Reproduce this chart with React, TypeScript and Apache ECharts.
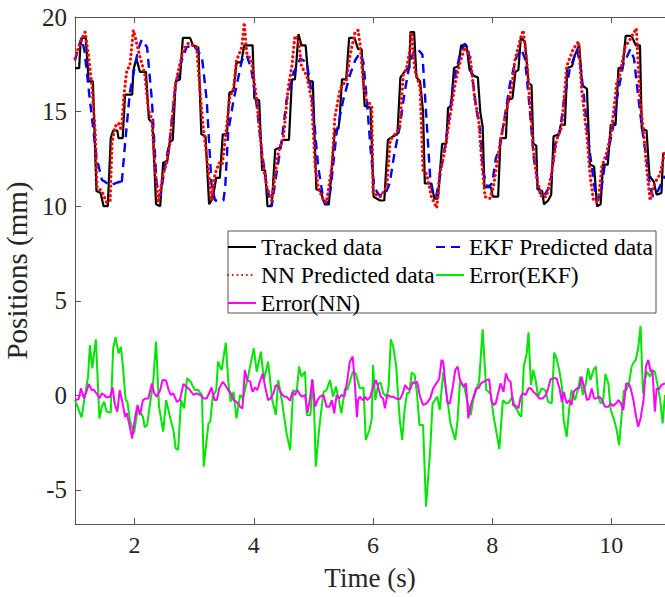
import React, { useEffect, useRef } from "react";
import * as echarts from "echarts";

const xTicks = [2, 4, 6, 8, 10];
const yTicks = [-5, 0, 5, 10, 15, 20];

const tracked: number[][] = [
  [1.00,17.3],[1.07,17.3],[1.09,18.5],[1.12,18.9],[1.18,18.9],[1.23,16.6],[1.30,16.6],[1.36,10.8],[1.43,10.7],[1.48,10.0],[1.55,10.0],[1.60,13.6],[1.64,14.0],[1.71,14.0],[1.73,13.6],[1.80,13.6],[1.84,15.9],[1.96,15.9],[1.98,17.2],[2.03,17.8],[2.09,17.1],[2.19,17.1],[2.24,14.6],[2.30,14.4],[2.36,10.1],[2.43,10.0],[2.48,12.3],[2.55,12.4],[2.59,13.4],[2.64,13.5],[2.69,16.6],[2.76,16.7],[2.81,18.9],[2.93,18.9],[2.98,18.5],[3.07,18.4],[3.12,13.8],[3.19,13.7],[3.25,10.1],[3.31,10.4],[3.37,11.5],[3.43,11.5],[3.48,13.8],[3.55,13.8],[3.59,16.0],[3.66,16.1],[3.71,17.6],[3.79,17.6],[3.84,18.5],[3.98,18.5],[4.01,15.7],[4.09,15.6],[4.14,11.9],[4.19,11.9],[4.23,10.0],[4.30,10.0],[4.36,13.0],[4.44,13.1],[4.48,13.5],[4.59,13.5],[4.64,16.7],[4.69,16.7],[4.71,17.4],[4.75,19.1],[4.80,18.5],[4.87,18.5],[4.92,16.6],[4.99,16.6],[5.05,10.9],[5.12,10.8],[5.19,10.1],[5.26,10.1],[5.36,14.0],[5.42,14.1],[5.44,14.6],[5.48,16.7],[5.55,16.7],[5.60,18.9],[5.69,18.9],[5.75,18.3],[5.81,18.3],[5.86,15.3],[5.96,15.2],[6.01,10.5],[6.12,10.3],[6.19,10.3],[6.25,13.5],[6.34,13.7],[6.41,13.8],[6.46,16.8],[6.55,17.2],[6.61,17.3],[6.63,19.2],[6.69,19.2],[6.73,16.8],[6.79,16.6],[6.84,15.0],[6.87,11.2],[6.98,11.2],[7.03,10.4],[7.09,10.4],[7.16,13.3],[7.23,13.3],[7.26,15.2],[7.31,15.3],[7.36,17.3],[7.43,17.4],[7.48,18.5],[7.57,18.5],[7.62,17.2],[7.69,16.9],[7.76,16.8],[7.80,15.0],[7.84,14.2],[7.87,11.0],[7.98,11.0],[8.01,10.5],[8.10,10.5],[8.14,13.6],[8.23,13.6],[8.26,15.6],[8.34,15.7],[8.39,17.1],[8.44,17.2],[8.48,18.9],[8.55,18.7],[8.61,16.5],[8.66,16.4],[8.69,13.3],[8.74,13.2],[8.76,10.9],[8.84,10.8],[8.87,10.1],[8.94,10.3],[8.99,10.6],[9.03,13.7],[9.12,13.8],[9.15,14.3],[9.22,14.3],[9.26,17.3],[9.34,17.4],[9.39,18.0],[9.46,18.5],[9.51,16.4],[9.59,16.2],[9.64,12.2],[9.71,12.1],[9.76,10.0],[9.82,10.1],[9.86,12.2],[9.94,12.2],[9.99,14.3],[10.07,14.3],[10.12,17.3],[10.19,17.3],[10.24,19.0],[10.34,19.0],[10.41,18.5],[10.48,18.5],[10.51,14.1],[10.59,14.0],[10.64,11.6],[10.71,11.3],[10.76,10.6],[10.84,10.7],[10.87,12.8],[10.93,12.8]
];

const ekfPredicted: number[][] = [
  [1.00,17.7],[1.05,18.3],[1.11,18.9],[1.16,18.2],[1.25,15.6],[1.36,12.6],[1.45,11.4],[1.59,11.1],[1.75,11.3],[1.78,11.1],[1.84,13.3],[1.92,16.0],[2.06,18.3],[2.12,18.8],[2.21,18.4],[2.29,15.6],[2.37,11.2],[2.43,10.5],[2.51,12.1],[2.59,13.5],[2.68,16.2],[2.76,17.4],[2.87,18.4],[2.99,18.5],[3.13,17.9],[3.21,15.6],[3.29,11.2],[3.35,10.3],[3.49,10.3],[3.52,11.0],[3.57,13.9],[3.66,15.6],[3.80,17.7],[3.88,18.0],[3.96,17.2],[4.05,15.3],[4.13,13.0],[4.22,11.0],[4.30,10.0],[4.38,11.7],[4.47,13.5],[4.55,15.6],[4.66,17.0],[4.78,17.8],[4.89,17.6],[4.97,16.0],[5.03,13.9],[5.08,12.1],[5.17,10.3],[5.22,10.1],[5.28,10.7],[5.33,12.1],[5.39,13.9],[5.50,15.6],[5.61,16.9],[5.70,17.7],[5.78,18.1],[5.84,17.6],[5.90,15.5],[5.96,13.0],[6.02,11.0],[6.10,10.6],[6.20,10.6],[6.28,11.2],[6.36,12.8],[6.45,14.2],[6.53,16.0],[6.62,17.6],[6.70,18.3],[6.78,18.2],[6.83,18.0],[6.90,14.5],[6.96,11.5],[7.00,10.6],[7.06,10.5],[7.12,11.5],[7.20,13.0],[7.27,14.5],[7.35,16.5],[7.45,17.9],[7.54,18.6],[7.60,18.2],[7.68,16.5],[7.74,15.0],[7.79,14.2],[7.85,11.8],[7.92,11.0],[8.00,11.2],[8.06,12.5],[8.13,13.2],[8.20,14.5],[8.30,16.5],[8.41,17.9],[8.49,18.3],[8.55,17.8],[8.62,15.5],[8.70,12.5],[8.80,10.7],[8.86,10.5],[8.94,10.9],[8.99,11.5],[9.06,13.3],[9.14,14.0],[9.20,15.5],[9.30,17.2],[9.42,18.3],[9.48,17.5],[9.55,15.5],[9.62,13.3],[9.70,11.4],[9.75,10.3],[9.82,10.6],[9.88,12.0],[9.94,12.8],[10.03,14.2],[10.10,15.8],[10.20,17.5],[10.32,18.3],[10.38,17.8],[10.45,15.8],[10.52,14.0],[10.59,12.5],[10.65,11.0],[10.70,10.5],[10.78,10.8],[10.85,11.3],[10.90,11.6]
];

const nnPredicted: number[][] = [
  [1.00,17.8],[1.08,18.6],[1.17,19.2],[1.22,18.1],[1.28,16.5],[1.34,13.9],[1.37,11.0],[1.45,10.8],[1.53,10.2],[1.59,10.3],[1.62,13.3],[1.67,14.2],[1.73,14.4],[1.78,14.0],[1.82,15.8],[1.87,17.2],[1.92,17.4],[1.98,19.3],[2.02,18.8],[2.09,17.9],[2.17,17.0],[2.23,15.1],[2.29,14.6],[2.34,12.1],[2.40,10.2],[2.48,11.7],[2.54,12.3],[2.59,13.3],[2.68,16.3],[2.73,17.1],[2.82,18.3],[2.90,18.6],[3.04,18.4],[3.10,16.0],[3.15,14.2],[3.23,12.1],[3.29,10.3],[3.35,11.7],[3.42,12.3],[3.47,12.2],[3.52,13.5],[3.60,15.8],[3.66,16.2],[3.71,17.7],[3.80,18.4],[3.84,19.7],[3.88,18.1],[3.96,17.7],[4.05,15.6],[4.10,13.9],[4.16,12.1],[4.22,11.0],[4.30,10.3],[4.36,11.7],[4.41,12.8],[4.50,13.7],[4.58,16.3],[4.64,17.4],[4.69,19.0],[4.75,18.8],[4.80,17.4],[4.89,16.9],[4.97,15.6],[5.03,12.1],[5.08,11.0],[5.17,10.3],[5.22,10.2],[5.31,12.1],[5.36,14.7],[5.45,16.2],[5.56,16.7],[5.61,17.9],[5.70,19.2],[5.75,19.3],[5.78,18.6],[5.84,16.5],[5.89,15.6],[5.98,15.3],[6.00,10.7],[6.12,10.5],[6.23,11.0],[6.29,13.5],[6.40,13.9],[6.45,14.2],[6.51,17.0],[6.56,17.2],[6.62,18.3],[6.65,19.2],[6.70,17.2],[6.79,16.3],[6.84,11.9],[6.90,11.7],[6.98,10.5],[7.07,9.9],[7.12,11.7],[7.21,13.0],[7.29,14.7],[7.38,16.5],[7.46,17.6],[7.54,18.4],[7.63,17.9],[7.71,15.6],[7.77,14.7],[7.82,12.5],[7.88,10.5],[7.96,10.4],[8.02,11.0],[8.13,13.3],[8.24,15.1],[8.33,16.3],[8.38,17.7],[8.47,18.8],[8.52,19.3],[8.58,17.7],[8.63,15.6],[8.69,13.0],[8.75,11.4],[8.83,10.5],[8.91,10.5],[8.99,11.6],[9.08,13.5],[9.17,14.2],[9.25,17.4],[9.36,18.3],[9.45,18.7],[9.50,16.2],[9.59,13.7],[9.64,11.7],[9.70,10.3],[9.78,10.2],[9.84,12.1],[9.92,12.8],[10.00,13.9],[10.09,16.5],[10.14,16.9],[10.23,18.4],[10.31,18.8],[10.42,19.4],[10.48,15.6],[10.54,13.9],[10.59,12.1],[10.65,10.3],[10.70,11.0],[10.76,11.4],[10.82,11.7],[10.90,13.0]
];

const errorEKF: number[][] = [
  [1.00,-0.25],[1.11,-1.16],[1.20,0.63],[1.22,0.99],[1.25,2.66],[1.29,1.43],[1.32,2.22],[1.35,2.96],[1.41,-1.22],[1.45,-0.60],[1.49,-0.34],[1.53,-0.86],[1.60,-0.92],[1.64,2.49],[1.68,3.07],[1.73,2.22],[1.77,2.57],[1.80,1.69],[1.85,-0.25],[1.88,-0.34],[1.92,-1.31],[1.99,-2.01],[2.05,-0.78],[2.09,-0.86],[2.14,-1.13],[2.17,-1.69],[2.21,-1.57],[2.26,-0.42],[2.31,0.63],[2.36,2.84],[2.41,-0.60],[2.48,-1.92],[2.53,-0.25],[2.58,-0.95],[2.62,-1.48],[2.65,-1.83],[2.69,-2.80],[2.73,-2.89],[2.78,-0.25],[2.83,-0.69],[2.88,0.90],[2.94,0.72],[3.01,0.28],[3.07,0.28],[3.13,0.02],[3.16,-3.77],[3.24,-1.48],[3.27,-1.39],[3.31,-0.07],[3.37,0.28],[3.40,1.78],[3.46,1.34],[3.53,2.79],[3.57,0.81],[3.61,-0.34],[3.66,0.19],[3.71,-1.22],[3.77,0.02],[3.82,-0.16],[3.91,1.08],[4.00,2.49],[4.05,1.25],[4.12,2.31],[4.17,0.81],[4.24,1.78],[4.31,-0.25],[4.37,-1.04],[4.41,0.81],[4.47,-0.25],[4.55,-2.01],[4.61,-2.89],[4.66,0.28],[4.72,0.19],[4.76,1.52],[4.80,0.99],[4.86,1.25],[4.89,-1.04],[4.95,-1.04],[4.99,0.81],[5.01,-0.42],[5.04,-3.77],[5.10,-1.66],[5.17,0.19],[5.22,0.28],[5.28,0.81],[5.33,-0.07],[5.38,0.46],[5.47,-0.95],[5.53,0.37],[5.57,0.28],[5.66,1.25],[5.71,1.16],[5.78,0.37],[5.84,0.42],[5.88,-2.36],[5.94,-1.83],[5.98,-1.22],[6.00,1.60],[6.04,-0.25],[6.09,0.63],[6.13,0.67],[6.17,0.11],[6.23,-0.07],[6.26,0.37],[6.30,2.96],[6.34,2.57],[6.39,1.52],[6.43,-0.42],[6.45,-1.31],[6.49,-2.36],[6.53,-0.78],[6.57,0.11],[6.61,0.14],[6.65,1.20],[6.70,1.08],[6.74,0.02],[6.78,-1.57],[6.84,-1.57],[6.89,-5.89],[6.96,-2.89],[7.00,-0.42],[7.04,-0.25],[7.08,-0.07],[7.12,-0.78],[7.18,1.25],[7.25,-0.25],[7.30,-1.48],[7.38,-2.36],[7.42,-1.31],[7.46,0.72],[7.53,0.46],[7.58,-0.25],[7.64,-1.04],[7.68,-0.25],[7.74,0.37],[7.78,0.72],[7.84,3.49],[7.90,0.28],[7.94,0.19],[7.98,0.02],[8.02,-1.04],[8.08,-2.10],[8.12,-2.84],[8.18,-0.25],[8.23,-0.42],[8.27,-0.42],[8.34,-0.07],[8.38,-0.60],[8.42,-0.78],[8.46,-1.04],[8.49,-1.13],[8.53,1.52],[8.58,2.22],[8.61,3.33],[8.65,0.55],[8.69,1.34],[8.73,0.81],[8.77,-0.07],[8.83,0.37],[8.89,0.28],[8.94,-0.34],[9.00,-0.42],[9.04,2.26],[9.08,1.96],[9.13,1.25],[9.17,0.46],[9.20,-1.31],[9.25,-2.19],[9.29,-0.78],[9.33,0.28],[9.39,-0.25],[9.45,0.46],[9.48,0.99],[9.52,0.02],[9.57,0.63],[9.61,1.43],[9.65,0.81],[9.70,1.34],[9.74,1.52],[9.78,-0.07],[9.82,-0.42],[9.86,-0.34],[9.90,1.13],[9.95,0.63],[9.99,-0.78],[10.04,-1.22],[10.09,-1.83],[10.13,-2.63],[10.17,-1.13],[10.21,0.25],[10.26,0.32],[10.30,0.72],[10.34,1.52],[10.38,1.78],[10.41,1.87],[10.45,2.49],[10.49,3.67],[10.53,0.11],[10.56,0.81],[10.60,1.25],[10.65,0.99],[10.69,1.31],[10.73,1.25],[10.77,0.63],[10.82,-0.25],[10.86,-1.48],[10.90,0.02]
];

const errorNN: number[][] = [
  [1.00,-0.25],[1.06,-0.21],[1.10,0.37],[1.15,-0.16],[1.20,0.28],[1.23,0.60],[1.28,0.28],[1.32,0.28],[1.36,0.11],[1.41,-0.16],[1.45,0.11],[1.49,0.02],[1.53,-0.11],[1.59,-0.07],[1.63,0.42],[1.67,-0.51],[1.71,-0.86],[1.75,0.28],[1.80,-0.42],[1.84,-1.13],[1.87,-0.95],[1.92,-1.66],[1.96,-2.28],[2.01,-1.13],[2.05,-0.51],[2.09,-1.04],[2.14,-0.25],[2.19,-0.16],[2.23,-0.18],[2.29,0.63],[2.33,0.11],[2.37,-0.07],[2.43,0.28],[2.47,0.81],[2.53,0.78],[2.57,0.28],[2.61,0.02],[2.65,0.11],[2.71,-0.34],[2.76,-0.25],[2.82,0.60],[2.87,0.46],[2.93,0.28],[2.99,0.02],[3.04,0.11],[3.10,0.02],[3.16,-0.16],[3.21,-0.16],[3.25,0.11],[3.29,0.42],[3.34,-0.25],[3.38,-0.25],[3.42,0.37],[3.48,0.72],[3.52,0.55],[3.57,0.28],[3.61,0.14],[3.66,-0.25],[3.71,-0.34],[3.77,-0.60],[3.81,-0.69],[3.85,1.34],[3.89,0.81],[3.94,0.72],[3.98,0.19],[4.02,0.42],[4.06,0.28],[4.10,0.72],[4.15,1.13],[4.19,0.46],[4.24,-0.25],[4.28,-0.16],[4.33,0.11],[4.37,0.55],[4.41,0.46],[4.46,0.11],[4.51,-0.07],[4.55,-0.07],[4.61,-0.28],[4.65,0.19],[4.69,0.02],[4.73,0.28],[4.78,0.02],[4.81,-0.07],[4.86,0.02],[4.90,-0.92],[4.94,-0.25],[4.98,0.85],[5.03,-0.60],[5.07,-0.25],[5.11,-0.07],[5.17,0.02],[5.22,-0.60],[5.27,-0.60],[5.31,-0.25],[5.35,-0.95],[5.39,0.02],[5.43,-0.16],[5.47,0.02],[5.52,-0.07],[5.57,0.81],[5.61,1.78],[5.66,2.05],[5.70,0.46],[5.73,-1.16],[5.75,-0.25],[5.78,-0.07],[5.83,-0.25],[5.87,-0.07],[5.90,-0.25],[5.95,-0.11],[6.00,0.42],[6.05,0.81],[6.09,0.42],[6.13,-0.07],[6.17,-0.16],[6.20,-0.69],[6.24,0.02],[6.29,-0.07],[6.34,-0.07],[6.40,-0.18],[6.45,-0.21],[6.50,0.11],[6.54,0.55],[6.58,0.37],[6.62,0.28],[6.67,0.72],[6.70,0.63],[6.74,0.72],[6.79,-0.07],[6.84,-0.51],[6.90,-0.42],[6.96,-0.16],[7.01,0.37],[7.07,0.67],[7.11,0.85],[7.15,1.87],[7.18,1.78],[7.21,0.72],[7.25,-0.42],[7.29,-0.42],[7.34,0.46],[7.38,1.34],[7.42,1.52],[7.46,0.81],[7.52,0.46],[7.56,0.63],[7.60,-1.22],[7.64,-0.51],[7.68,-0.16],[7.73,0.37],[7.77,0.37],[7.81,0.63],[7.86,0.72],[7.91,0.81],[7.95,0.85],[7.99,-0.34],[8.03,-0.51],[8.06,-0.42],[8.10,0.11],[8.14,0.63],[8.19,0.19],[8.23,1.16],[8.27,0.81],[8.31,0.72],[8.35,-0.51],[8.40,-0.56],[8.44,-0.69],[8.48,-0.07],[8.52,0.11],[8.56,0.02],[8.61,0.37],[8.65,0.37],[8.69,0.19],[8.75,0.02],[8.79,-0.16],[8.85,-0.16],[8.90,0.02],[8.94,0.37],[8.98,0.85],[9.03,0.90],[9.08,0.90],[9.13,0.37],[9.17,-0.34],[9.20,0.19],[9.25,-0.42],[9.29,-0.25],[9.33,-0.51],[9.37,0.19],[9.42,0.37],[9.46,0.37],[9.50,0.99],[9.54,0.46],[9.59,-0.25],[9.63,-0.16],[9.67,0.37],[9.71,-0.16],[9.75,-0.16],[9.80,-0.07],[9.84,-0.21],[9.89,-0.60],[9.95,-0.60],[9.99,-0.42],[10.03,-0.56],[10.08,-0.42],[10.12,-0.25],[10.16,-0.42],[10.20,-0.78],[10.25,0.63],[10.29,0.63],[10.32,0.42],[10.37,-0.25],[10.41,-1.04],[10.45,-1.66],[10.49,-1.22],[10.54,-0.25],[10.58,1.55],[10.62,1.87],[10.66,1.25],[10.69,1.34],[10.73,-0.86],[10.76,0.37],[10.80,0.32],[10.84,0.55],[10.90,0.63]
];

export default function App() {
  const ref = useRef<HTMLDivElement>(null);
  useEffect(() => {
    if (!ref.current) return;
    const chart = echarts.init(ref.current, null, { renderer: "svg" });
    const font = "Liberation Serif";
    const axisColor = "#555555";
    const textColor = "#262626";
    const tickCommon = { show: true, inside: true, length: 6, lineStyle: { color: axisColor, width: 1 } };
    const lineCommon = { type: "line", showSymbol: false, symbol: "none", silent: true, smooth: false };
    const legendCommon = {
      orient: "vertical", top: 235, padding: 0,
      itemWidth: 28, itemHeight: 12, itemGap: 4, selectedMode: false,
      itemStyle: { opacity: 0 },
      textStyle: { fontSize: 23.5, fontFamily: font, color: "#000", lineHeight: 23 },
    };
    chart.setOption({
      animation: false,
      backgroundColor: "#ffffff",
      grid: { left: 75, top: 17, right: 0, bottom: 73, containLabel: false, outerBoundsMode: "none" },
      xAxis: [
        {
          type: "value", position: "bottom", min: 1, max: 10.9,
          axisLine: { show: true, onZero: false, lineStyle: { color: axisColor, width: 1 } },
          axisTick: { ...tickCommon, customValues: xTicks },
          axisLabel: { customValues: xTicks, fontSize: 24, fontFamily: font, color: textColor, margin: 9 },
          splitLine: { show: false },
          name: "Time (s)", nameLocation: "middle", nameGap: 40,
          nameTextStyle: { fontSize: 27, fontFamily: font, color: textColor },
        },
        {
          type: "value", position: "top", min: 1, max: 10.9,
          axisLine: { show: true, onZero: false, lineStyle: { color: axisColor, width: 1 } },
          axisTick: { ...tickCommon, customValues: xTicks },
          axisLabel: { show: false },
          splitLine: { show: false },
        },
      ],
      yAxis: [
        {
          type: "value", min: -6.8, max: 20,
          axisLine: { show: true, onZero: false, lineStyle: { color: axisColor, width: 1 } },
          axisTick: { ...tickCommon, customValues: yTicks },
          axisLabel: { customValues: yTicks, fontSize: 25, fontFamily: font, color: textColor, margin: 8 },
          splitLine: { show: false },
          name: "Positions (mm)", nameLocation: "middle", nameGap: 39, nameRotate: 90,
          nameTextStyle: { fontSize: 29, fontFamily: font, color: textColor },
        },
      ],
      legend: [
        { ...legendCommon, left: 227, data: ["Tracked data", "NN Predicted data", "Error(NN)"] },
        { ...legendCommon, left: 435, data: ["EKF Predicted data", "Error(EKF)"] },
      ],
      graphic: [
        {
          type: "rect", z: 3, silent: true,
          shape: { x: 228, y: 231, width: 428, height: 82 },
          style: { fill: "#ffffff", stroke: "#555555", lineWidth: 1 },
        },
      ],
      series: [
        { ...lineCommon, name: "Tracked data", data: tracked, z: 2,
          lineStyle: { color: "#000000", width: 2.2 }, itemStyle: { color: "#000000" } },
        { ...lineCommon, name: "EKF Predicted data", data: ekfPredicted, z: 3,
          lineStyle: { color: "#0000ff", width: 2.4, type: [9, 6] }, itemStyle: { color: "#0000ff" } },
        { ...lineCommon, name: "NN Predicted data", data: nnPredicted, z: 4,
          lineStyle: { color: "#ff0000", width: 3.2, type: [0.1, 4.6], cap: "round" }, itemStyle: { color: "#ff0000" } },
        { ...lineCommon, name: "Error(EKF)", data: errorEKF, z: 5,
          lineStyle: { color: "#00e600", width: 2 }, itemStyle: { color: "#00e600" } },
        { ...lineCommon, name: "Error(NN)", data: errorNN, z: 6,
          lineStyle: { color: "#ff00ff", width: 2 }, itemStyle: { color: "#ff00ff" } },
      ],
    });
    return () => chart.dispose();
  }, []);
  return (
    <div
      ref={ref}
      style={{ position: "absolute", left: 0, top: 0, width: 665, height: 597, background: "#ffffff" }}
    />
  );
}
